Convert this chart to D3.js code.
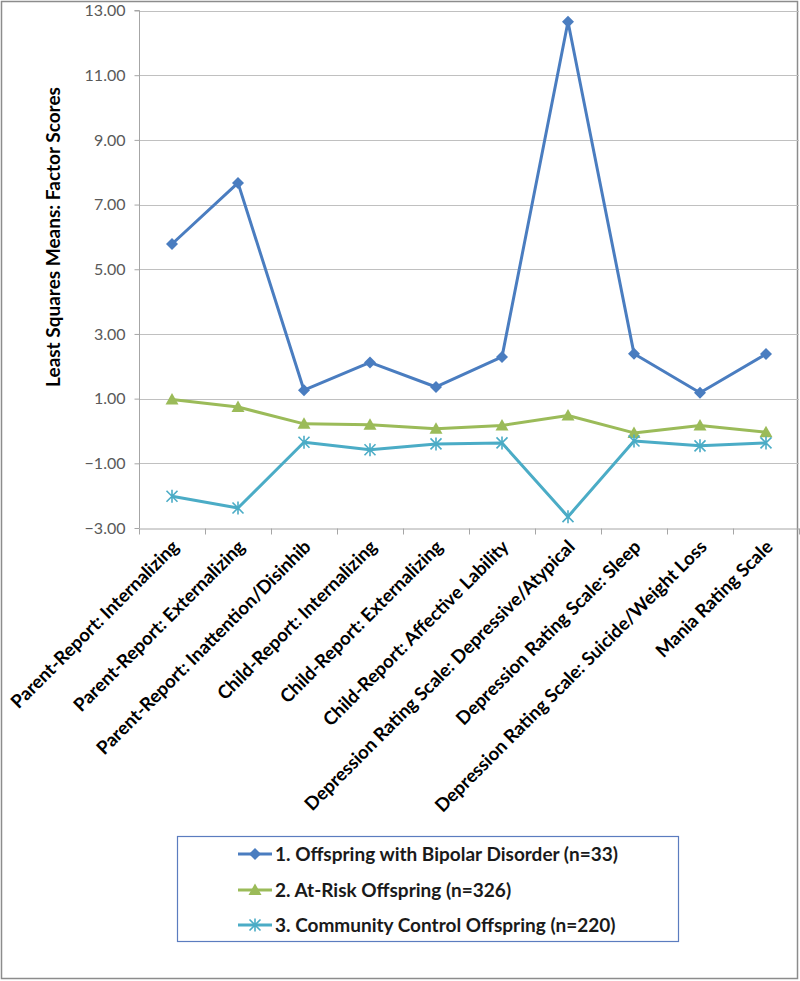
<!DOCTYPE html>
<html>
<head>
<meta charset="utf-8">
<script src="https://cdn.jsdelivr.net/npm/d3@7"></script>
<style>
  html, body { margin: 0; padding: 0; background: #fff; }
  svg { display: block; }
</style>
</head>
<body>
<svg id="chart" width="800" height="981"></svg>
<script>
const categories = [
  "Parent-Report: Internalizing",
  "Parent-Report: Externalizing",
  "Parent-Report: Inattention/Disinhib",
  "Child-Report: Internalizing",
  "Child-Report: Externalizing",
  "Child-Report: Affective Lability",
  "Depression Rating Scale: Depressive/Atypical",
  "Depression Rating Scale: Sleep",
  "Depression Rating Scale: Suicide/Weight Loss",
  "Mania Rating Scale"
];
const bipolar   = [5.78, 7.67, 1.26, 2.12, 1.36, 2.29, 12.65, 2.39, 1.18, 2.38];
const atRisk    = [0.97, 0.74, 0.22, 0.19, 0.07, 0.17, 0.48, -0.06, 0.17, -0.04];
const community = [-2.02, -2.38, -0.35, -0.58, -0.40, -0.37, -2.65, -0.31, -0.46, -0.37];
const seriesNames = [
  "1. Offspring with Bipolar Disorder (n=33)",
  "2. At-Risk Offspring (n=326)",
  "3. Community Control Offspring (n=220)"
];
const yTicks = [-3, -1, 1, 3, 5, 7, 9, 11, 13];
const yTitle = "Least Squares Means: Factor Scores";

const series = [
  { name: seriesNames[0], values: bipolar,   color: "#4A7DC0", marker: "diamond" },
  { name: seriesNames[1], values: atRisk,    color: "#9BBB59", marker: "triangle" },
  { name: seriesNames[2], values: community, color: "#4BACC6", marker: "star" }
];

const svg = d3.select("#chart");
const font = "Lato, Calibri, 'Open Sans', sans-serif";

// outer frame
svg.append("rect").attr("x", 1.5).attr("y", 1.5).attr("width", 796).attr("height", 977)
  .attr("fill", "none").attr("stroke", "#8c8c8c").attr("stroke-width", 1.5);

const x = d3.scaleBand().domain(categories).range([139, 799]).paddingInner(0).paddingOuter(0);
const y = d3.scaleLinear().domain([-3, 13]).range([528, 10.5]);

// gridlines
svg.append("g").selectAll("line").data(yTicks.filter(d => d !== -3)).join("line")
  .attr("x1", 139).attr("x2", 799)
  .attr("y1", d => Math.round(y(d)) + 0.5).attr("y2", d => Math.round(y(d)) + 0.5)
  .attr("stroke", "#c0c0c0").attr("stroke-width", 1.2);

// y axis
const yAxis = d3.axisLeft(y).tickValues(yTicks).tickFormat(d3.format(".2f")).tickSize(5).tickPadding(9);
const gy = svg.append("g").attr("transform", "translate(139.5,0)").call(yAxis);
gy.select(".domain").attr("stroke", "#a6a6a6").attr("d", `M-5,${y(13)}H0V${y(-3)}`);
gy.selectAll(".tick line").attr("stroke", "#a6a6a6");
gy.selectAll(".tick text").attr("fill", "#595959").style("font-family", font).style("font-size", "16px");

// x axis
const xAxis = d3.axisBottom(x).tickSize(0).tickFormat("");
const gx = svg.append("g").attr("transform", `translate(0,${Math.round(y(-3)) + 0.5})`).call(xAxis);
gx.select(".domain").attr("stroke", "#a6a6a6");
gx.selectAll(".tick").remove();
const bounds = categories.map(c => x(c)).concat([x.range()[1]]);
gx.selectAll("line.bt").data(bounds).join("line").attr("class", "bt")
  .attr("x1", d => Math.round(d) + 0.5).attr("x2", d => Math.round(d) + 0.5)
  .attr("y1", 0).attr("y2", 6).attr("stroke", "#a6a6a6");

// x labels
svg.append("g").selectAll("text").data(categories).join("text")
  .attr("transform", d => `translate(${x(d) + x.bandwidth() / 2 + 8},${y(-3) + 20}) rotate(-45)`)
  .attr("text-anchor", "end")
  .attr("fill", "#000")
  .style("font-family", font).style("font-weight", "bold").style("font-size", "18.5px")
  .text(d => d);

// y title
svg.append("text")
  .attr("transform", `translate(60,${237}) rotate(-90)`)
  .attr("text-anchor", "middle")
  .attr("fill", "#000")
  .style("font-family", font).style("font-weight", "bold").style("font-size", "19px")
  .text(yTitle);

function drawMarker(g, type, color) {
  if (type === "diamond") {
    g.append("path").attr("d", "M0,-6L6,0L0,6L-6,0Z").attr("fill", color);
  } else if (type === "triangle") {
    g.append("path").attr("d", "M0,-6.5L6.5,5L-6.5,5Z").attr("fill", color);
  } else {
    const s = 5.5;
    g.append("path")
      .attr("d", `M${-s},${-s}L${s},${s}M${-s},${s}L${s},${-s}M0,${-s - 1}L0,${s + 1}`)
      .attr("stroke", color).attr("stroke-width", 1.6).attr("fill", "none");
  }
}

const line = d3.line().x((d, i) => x(categories[i]) + x.bandwidth() / 2).y(d => y(d));

series.forEach(s => {
  svg.append("path").datum(s.values).attr("d", line)
    .attr("fill", "none").attr("stroke", s.color).attr("stroke-width", 3)
    .attr("stroke-linejoin", "round");
  const mg = svg.append("g");
  s.values.forEach((v, i) => {
    const g = mg.append("g").attr("transform", `translate(${x(categories[i]) + x.bandwidth() / 2},${y(v)})`);
    drawMarker(g, s.marker, s.color);
  });
});

// legend
const lg = svg.append("g");
lg.append("rect").attr("x", 177.5).attr("y", 836.5).attr("width", 501).attr("height", 105)
  .attr("fill", "#fff").attr("stroke", "#5b7cbf").attr("stroke-width", 1.2);
const rowY = [854, 890, 925];
series.forEach((s, i) => {
  const g = lg.append("g").attr("transform", `translate(0,${rowY[i]})`);
  g.append("line").attr("x1", 238).attr("x2", 272).attr("y1", 0).attr("y2", 0)
    .attr("stroke", s.color).attr("stroke-width", 3);
  const mg = g.append("g").attr("transform", "translate(255,0)");
  drawMarker(mg, s.marker, s.color);
  g.append("text").attr("x", 275).attr("y", 0).attr("dy", "0.35em")
    .attr("fill", "#1a1a1a")
    .style("font-family", font).style("font-weight", "bold").style("font-size", "19px")
    .text(s.name);
});
</script>
</body>
</html>
